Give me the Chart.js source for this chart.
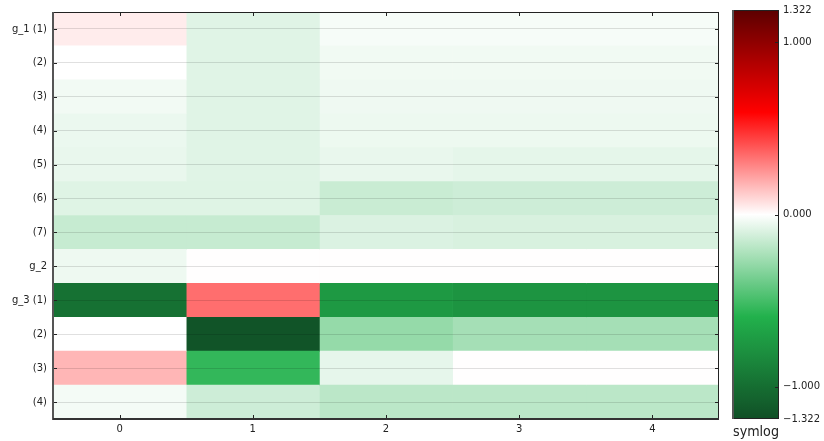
<!DOCTYPE html>
<html>
<head>
<meta charset="utf-8">
<script src="https://cdn.jsdelivr.net/npm/chart.js@4.4.1/dist/chart.umd.min.js"></script>
<style>
  html, body { margin: 0; padding: 0; background: #fff; }
  #wrap { position: relative; width: 824px; height: 441px; }
  #main { position: absolute; left: 0; top: 0; }
  #cbar { position: absolute; left: 725px; top: 0; }
</style>
</head>
<body>
<div id="wrap">
  <canvas id="main" width="824" height="441"></canvas>
  <canvas id="cbar" width="99" height="441"></canvas>
</div>
<script>
// Row and column labels
const rowLabels = ['g_1 (1)', '(2)', '(3)', '(4)', '(5)', '(6)', '(7)', 'g_2', 'g_3 (1)', '(2)', '(3)', '(4)'];
const colLabels = ['0', '1', '2', '3', '4'];

// Cell values, one array per column (rows top to bottom)
const col0 = [0.027, 0.000, -0.021, -0.032, -0.036, -0.053, -0.097, -0.027, -0.968, 0.000, 0.109, -0.018];
const col1 = [-0.051, -0.051, -0.051, -0.051, -0.051, -0.053, -0.097, 0.002, 0.235, -1.267, -0.427, -0.084];
const col2 = [-0.014, -0.023, -0.026, -0.029, -0.036, -0.092, -0.060, 0.002, -0.635, -0.193, -0.041, -0.118];
const col3 = [-0.014, -0.023, -0.026, -0.029, -0.042, -0.084, -0.065, 0.002, -0.679, -0.161, 0.002, -0.118];
const col4 = [-0.014, -0.023, -0.026, -0.029, -0.042, -0.084, -0.065, 0.002, -0.679, -0.161, 0.002, -0.118];
const columns = [col0, col1, col2, col3, col4];

// Colour bar range and tick values
const vmax = 1.322;
const colorbarTicks = [-1.322, -1, 0, 1, 1.322];

// Symmetric log transform used by the colour scale
const LIN = 0.6;
function symlog(v) { return Math.sign(v) * Math.log10(1 + Math.abs(v) / LIN); }
const F = symlog(vmax);

// Diverging colormap: dark green -> green -> white -> red -> dark red
const cmapStops = [
  [0.00, [16, 79, 38]],
  [0.25, [34, 177, 76]],
  [0.50, [255, 255, 255]],
  [0.75, [255, 0, 0]],
  [1.00, [92, 0, 0]]
];
function cmap(t) {
  t = Math.max(0, Math.min(1, t));
  for (let i = 1; i < cmapStops.length; i++) {
    const [t1, c1] = cmapStops[i];
    const [t0, c0] = cmapStops[i - 1];
    if (t <= t1) {
      const f = (t - t0) / (t1 - t0);
      const c = c0.map((a, k) => Math.round(a + (c1[k] - a) * f));
      return `rgb(${c[0]},${c[1]},${c[2]})`;
    }
  }
  const c = cmapStops[cmapStops.length - 1][1];
  return `rgb(${c[0]},${c[1]},${c[2]})`;
}
function colorFor(v) { return cmap(0.5 + 0.5 * symlog(v) / F); }

const FONT = "'DejaVu Sans', sans-serif";
const TEXT = '#222';

// Frame and inward tick marks around the heatmap
const heatFrame = {
  id: 'heatFrame',
  afterDraw(chart) {
    const { ctx, chartArea: a, scales } = chart;
    const L = 4;
    ctx.save();
    ctx.strokeStyle = '#222';
    ctx.lineWidth = 1;
    ctx.beginPath();
    scales.y.ticks.forEach((t, i) => {
      const py = Math.round(scales.y.getPixelForTick(i)) + 0.5;
      ctx.moveTo(a.left, py); ctx.lineTo(a.left + L, py);
      ctx.moveTo(a.right, py); ctx.lineTo(a.right - L, py);
    });
    scales.x.ticks.forEach((t) => {
      const px = Math.round(scales.x.getPixelForValue(t.value)) + 0.5;
      ctx.moveTo(px, a.top); ctx.lineTo(px, a.top + L);
      ctx.moveTo(px, a.bottom); ctx.lineTo(px, a.bottom - L);
    });
    ctx.stroke();
    // box
    ctx.beginPath();
    ctx.moveTo(a.left, a.top + 0.5); ctx.lineTo(a.right, a.top + 0.5);
    ctx.moveTo(a.right - 0.5, a.top); ctx.lineTo(a.right - 0.5, a.bottom);
    ctx.stroke();
    ctx.lineWidth = 2;
    ctx.strokeStyle = '#555';
    ctx.beginPath();
    ctx.moveTo(a.left, a.top); ctx.lineTo(a.left, a.bottom + 1);
    ctx.stroke();
    ctx.strokeStyle = '#333';
    ctx.beginPath();
    ctx.moveTo(a.left, a.bottom); ctx.lineTo(a.right, a.bottom);
    ctx.stroke();
    ctx.restore();
  }
};

new Chart(document.getElementById('main'), {
  type: 'bar',
  data: {
    labels: rowLabels,
    datasets: columns.map((vals, c) => ({
      label: colLabels[c],
      data: vals.map(() => [c - 0.5, c + 0.5]),
      backgroundColor: vals.map(colorFor),
      borderWidth: 0,
      barPercentage: 1,
      categoryPercentage: 1,
      grouped: false
    }))
  },
  options: {
    indexAxis: 'y',
    responsive: false,
    animation: false,
    events: [],
    layout: { padding: { top: 10, right: 105, left: 0, bottom: 0 } },
    plugins: { legend: { display: false }, tooltip: { enabled: false } },
    scales: {
      x: {
        type: 'linear',
        min: -0.5, max: 4.5,
        afterBuildTicks: (s) => { s.ticks = colLabels.map((_, i) => ({ value: i })); },
        afterFit: (s) => { s.height = 22; },
        ticks: {
          callback: (v) => colLabels[v],
          font: { family: FONT, size: 10 }, color: TEXT, padding: 4, maxRotation: 0
        },
        grid: { display: false, drawTicks: false },
        border: { display: false }
      },
      y: {
        type: 'category',
        afterFit: (s) => { s.width = 53; },
        ticks: { font: { family: FONT, size: 10 }, color: TEXT, padding: 6 },
        grid: { color: 'rgba(0,0,0,0.12)', lineWidth: 1, drawTicks: false, offset: false, z: 1 },
        border: { display: false }
      }
    }
  },
  plugins: [heatFrame]
});

// Colour bar frame and inward ticks
const barFrame = {
  id: 'barFrame',
  afterDraw(chart) {
    const { ctx, chartArea: a, scales } = chart;
    ctx.save();
    ctx.strokeStyle = '#222';
    ctx.lineWidth = 1;
    ctx.beginPath();
    scales.y.ticks.forEach((t) => {
      if (Math.abs(Math.abs(t.value) - F) < 1e-9) return;
      const py = Math.round(scales.y.getPixelForValue(t.value)) + 0.5;
      ctx.moveTo(a.right, py); ctx.lineTo(a.right - 4, py);
    });
    ctx.moveTo(a.left, a.top + 0.5); ctx.lineTo(a.right, a.top + 0.5);
    ctx.moveTo(a.right - 0.5, a.top); ctx.lineTo(a.right - 0.5, a.bottom);
    ctx.moveTo(a.left, a.bottom - 0.5); ctx.lineTo(a.right, a.bottom - 0.5);
    ctx.stroke();
    ctx.strokeStyle = '#555';
    ctx.lineWidth = 2;
    ctx.beginPath();
    ctx.moveTo(a.left, a.top); ctx.lineTo(a.left, a.bottom);
    ctx.stroke();
    ctx.restore();
  }
};

function fmtTick(v) {
  const s = Math.abs(v).toFixed(3);
  return v < 0 ? '\u2212' + s : s;
}

new Chart(document.getElementById('cbar'), {
  type: 'bar',
  data: {
    labels: [''],
    datasets: [{
      data: [[-F, F]],
      backgroundColor: (ctx) => {
        const a = ctx.chart.chartArea;
        if (!a) return 'rgba(0,0,0,0)';
        const g = ctx.chart.ctx.createLinearGradient(0, a.bottom, 0, a.top);
        for (let i = 0; i <= 40; i++) g.addColorStop(i / 40, cmap(i / 40));
        return g;
      },
      borderWidth: 0,
      barPercentage: 1,
      categoryPercentage: 1
    }]
  },
  options: {
    responsive: false,
    animation: false,
    events: [],
    layout: { padding: { top: 10, left: 8, right: 0, bottom: 0 } },
    plugins: { legend: { display: false }, tooltip: { enabled: false } },
    scales: {
      x: {
        type: 'category',
        afterFit: (s) => { s.height = 22; },
        ticks: { display: false },
        grid: { display: false, drawTicks: false },
        border: { display: false },
        title: { display: true, text: 'symlog', font: { family: FONT, size: 14 }, color: TEXT, padding: 0 }
      },
      y: {
        type: 'linear',
        position: 'right',
        min: -F, max: F,
        afterBuildTicks: (s) => { s.ticks = colorbarTicks.map((v) => ({ value: symlog(v) })); },
        afterFit: (s) => { s.width = 45; },
        ticks: {
          callback: (v, i) => fmtTick(colorbarTicks[i]),
          font: { family: FONT, size: 10 }, color: TEXT, padding: 4
        },
        grid: { display: false, drawTicks: false },
        border: { display: false }
      }
    }
  },
  plugins: [barFrame]
});
</script>
</body>
</html>
